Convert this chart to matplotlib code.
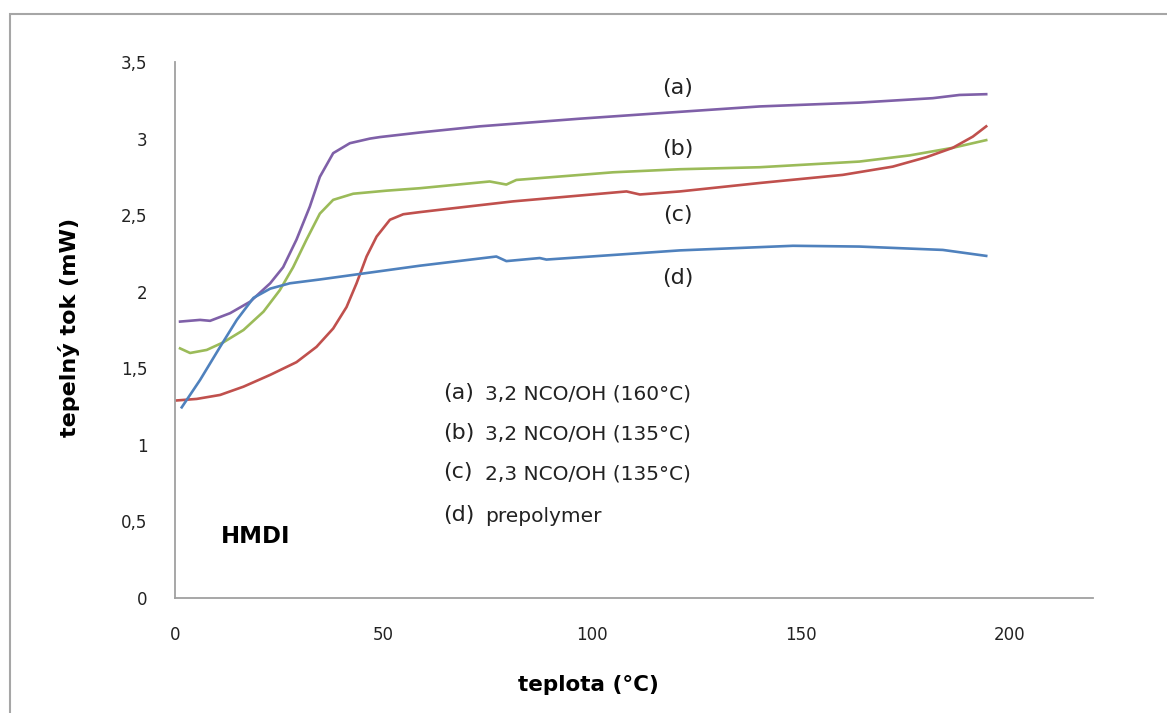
import matplotlib
matplotlib.use("Agg")
import matplotlib.pyplot as plt
from matplotlib.patches import Rectangle
from matplotlib.ticker import FuncFormatter

# (a) 3,2 NCO/OH (160 C)
a_x = [1.2, 6.0, 8.4, 13.2, 18.0, 22.8, 25.9, 29.1, 32.3, 34.7, 37.9, 41.9, 46.7, 49.1, 58.7,
       73, 97, 116.2, 140.1, 164, 181.6, 188, 194.4]
a_y = [1.805, 1.816, 1.81, 1.86, 1.935, 2.055, 2.16, 2.34, 2.556, 2.75, 2.905, 2.97, 3.00, 3.01, 3.04,
       3.08, 3.13, 3.166, 3.21, 3.235, 3.264, 3.285, 3.29]

# (b) 3,2 NCO/OH (135 C)
b_x = [1.2, 3.6, 7.6, 11.6, 16.4, 21.2, 25.1, 28.3, 31.5, 34.7, 37.9, 42.7, 50.7, 58.7,
       75.4, 79.4, 81.8, 105, 121, 140.1, 164, 176, 186.4, 194.4]
b_y = [1.63, 1.60, 1.62, 1.67, 1.75, 1.87, 2.01, 2.16, 2.34, 2.51, 2.60, 2.64, 2.66, 2.676,
       2.72, 2.70, 2.73, 2.78, 2.80, 2.813, 2.85, 2.89, 2.94, 2.99]

# (c) 2,3 NCO/OH (135 C)
c_x = [0.4, 5.2, 10.8, 16.4, 22.8, 29.1, 33.9, 37.9, 41.1, 43.5, 45.9, 48.3, 51.5, 54.7, 58.7,
       65, 81, 108.2, 111.4, 121, 140.1, 160, 172, 180, 186.4, 191.2, 194.4]
c_y = [1.29, 1.30, 1.326, 1.38, 1.457, 1.54, 1.64, 1.76, 1.90, 2.055, 2.23, 2.36, 2.47, 2.506, 2.52,
       2.54, 2.59, 2.655, 2.635, 2.655, 2.71, 2.763, 2.817, 2.878, 2.94, 3.013, 3.08]

# (d) prepolymer
d_x = [1.6, 6.0, 10.8, 14.8, 18.8, 22.8, 27.5, 34.7, 42.7, 50.7, 58.7,
       77, 79.4, 87.4, 89, 121, 148.1, 164, 184, 194.4]
d_y = [1.245, 1.424, 1.64, 1.816, 1.96, 2.02, 2.055, 2.08, 2.11, 2.14, 2.17,
       2.23, 2.20, 2.22, 2.21, 2.27, 2.30, 2.295, 2.273, 2.234]

y_ticks = [0, 0.5, 1, 1.5, 2, 2.5, 3, 3.5]
x_ticks = [0, 50, 100, 150, 200]
legend_tags = ["(a)", "(b)", "(c)", "(d)"]
legend_texts = ["3,2 NCO/OH (160°C)", "3,2 NCO/OH (135°C)", "2,3 NCO/OH (135°C)", "prepolymer"]

plt.rcParams['font.family'] = ['DejaVu Sans']

fig = plt.figure(figsize=(11.67, 7.13), dpi=100)
ax = fig.add_axes([0.150, 0.1613, 0.7866, 0.7517])

ax.plot(a_x, a_y, color='#7F60A8', lw=1.9)
ax.plot(b_x, b_y, color='#9BBB59', lw=1.9)
ax.plot(c_x, c_y, color='#C0504D', lw=1.9)
ax.plot(d_x, d_y, color='#4F81BD', lw=1.9)

ax.set_xlim(0, 220)
ax.set_ylim(0, 3.5)
ax.set_xticks(x_ticks)
ax.set_yticks(y_ticks)
ax.yaxis.set_major_formatter(FuncFormatter(lambda v, p: ('%g' % v).replace('.', ',')))
ax.tick_params(length=0, labelsize=12, labelcolor='#222222')
ax.tick_params(axis='y', pad=20)
ax.tick_params(axis='x', pad=20)

for s in ['top', 'right']:
    ax.spines[s].set_visible(False)
for s in ['left', 'bottom']:
    ax.spines[s].set_color('#A0A0A0')
    ax.spines[s].set_linewidth(1.3)

ax.set_xlabel('teplota (°C)', fontsize=15.5, fontweight='bold')
ax.xaxis.set_label_coords(0.45, -0.143)
ax.set_ylabel('tepelný tok (mW)', fontsize=16, fontweight='bold')
ax.yaxis.set_label_coords(-0.104, 0.505)

# curve tags
tag_y = [3.33, 2.93, 2.50, 2.09]
for t, yy in zip(legend_tags, tag_y):
    ax.text(120.5, yy, t, fontsize=16, ha='center', va='center', color='#222222')

# text legend
leg_y = [1.34, 1.08, 0.82, 0.54]
for t, txt, yy in zip(legend_tags, legend_texts, leg_y):
    ax.text(64.2, yy, t, fontsize=16, ha='left', va='center', color='#222222')
    ax.text(74.3, yy - 0.01, txt, fontsize=14.5, ha='left', va='center', color='#222222')

ax.text(19.2, 0.40, 'HMDI', fontsize=16.5, fontweight='bold', ha='center', va='center')

fig.patches.append(Rectangle((10 / 1167, -0.1), 1.2, 1.1 - 14 / 713, transform=fig.transFigure,
                             fill=False, edgecolor='#A6A6A6', lw=1.5))

fig.savefig('out.png', dpi=100)
